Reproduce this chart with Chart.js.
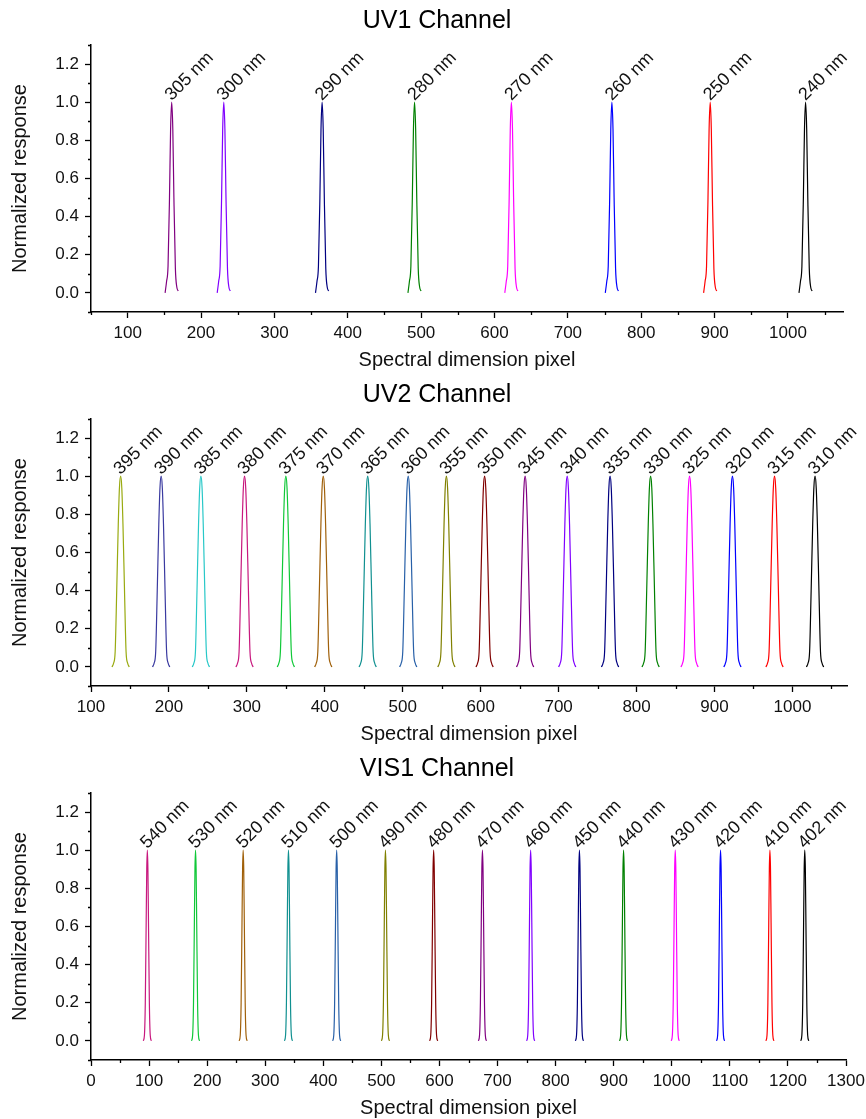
<!DOCTYPE html>
<html>
<head>
<meta charset="utf-8">
<script src="https://cdn.jsdelivr.net/npm/chart.js@4.4.1/dist/chart.umd.min.js"></script>
<style>
  html, body { margin: 0; padding: 0; background: #fff; }
  .panel { position: relative; width: 866px; }
</style>
</head>
<body>
<div class="panel" style="height:374px"><canvas id="uv1"></canvas></div>
<div class="panel" style="height:374px"><canvas id="uv2"></canvas></div>
<div class="panel" style="height:371px"><canvas id="vis1"></canvas></div>
<script>
// Peak positions / labels (pixel index of each peak maximum)
const uv1Labels = ['305 nm', '300 nm', '290 nm', '280 nm', '270 nm', '260 nm', '250 nm', '240 nm'];
const uv1Centers = [160, 231, 365, 491, 623, 760, 894, 1024];
const uv1Colors = ['#800080', '#8000ff', '#000080', '#008000', '#ff00ff', '#0000ff', '#ff0000', '#000000'];

const uv2Labels = ['395 nm', '390 nm', '385 nm', '380 nm', '375 nm', '370 nm', '365 nm', '360 nm', '355 nm',
                   '350 nm', '345 nm', '340 nm', '335 nm', '330 nm', '325 nm', '320 nm', '315 nm', '310 nm'];
const uv2Centers = [138, 190, 241, 297, 350, 398, 455, 507, 556, 605, 657, 711, 766, 818, 868, 923, 977, 1029];
const uv2Colors = ['#99aa10', '#3a3aa0', '#28c8c8', '#c8187e', '#10c838', '#a0600a', '#109090', '#2860a8', '#808000',
                   '#800000', '#800080', '#8000ff', '#000080', '#008000', '#ff00ff', '#0000ff', '#ff0000', '#000000'];

const vis1Labels = ['540 nm', '530 nm', '520 nm', '510 nm', '500 nm', '490 nm', '480 nm', '470 nm',
                    '460 nm', '450 nm', '440 nm', '430 nm', '420 nm', '410 nm', '402 nm'];
const vis1Centers = [97, 180, 262, 340, 423, 507, 590, 674, 757, 841, 917, 1006, 1084, 1169, 1229];
const vis1Colors = ['#c8187e', '#10c838', '#a0600a', '#109090', '#2860a8', '#808000', '#800000', '#800080',
                    '#8000ff', '#000080', '#008000', '#ff00ff', '#0000ff', '#ff0000', '#000000'];

// Shape of one normalized peak (offset in pixels from the maximum -> response), per channel
const uv1Offsets = [-9, -7, -5, -3, -1.5, 0, 1.5, 3, 5, 7, 9];
const uv1Profile = [0.00, 0.06, 0.14, 0.50, 0.86, 1.00, 0.86, 0.50, 0.13, 0.03, 0.01];
const uv2Offsets = [-11, -9, -7, -5, -3, -1.5, 0, 1.5, 3, 5, 7, 9, 11];
const uv2Profile = [0.00, 0.02, 0.08, 0.40, 0.75, 0.94, 1.00, 0.94, 0.75, 0.40, 0.08, 0.02, 0.00];
const vis1Offsets = [-7, -5, -3.5, -2, -1, 0, 1, 2, 3.5, 5, 7];
const vis1Profile = [0.00, 0.03, 0.20, 0.62, 0.90, 1.00, 0.90, 0.62, 0.20, 0.03, 0.00];

// Axis ticks
const yTicks = [0, 0.2, 0.4, 0.6, 0.8, 1.0, 1.2];
const uv1XTicks = [100, 200, 300, 400, 500, 600, 700, 800, 900, 1000];
const uv2XTicks = [100, 200, 300, 400, 500, 600, 700, 800, 900, 1000];
const vis1XTicks = [0, 100, 200, 300, 400, 500, 600, 700, 800, 900, 1000, 1100, 1200, 1300];

const FONT = "'Liberation Sans', Arial, sans-serif";
const INK = '#111';

// short minor tick marks between the labelled ones
const minorTicks = {
    id: 'minorTicks',
    afterDraw(chart, args, opts) {
        const ctx = chart.ctx;
        const { x, y } = chart.scales;
        const area = chart.chartArea;
        ctx.save();
        ctx.strokeStyle = '#000';
        ctx.lineWidth = 1.3;
        ctx.beginPath();
        for (let i = Math.ceil(x.min / opts.xStep); i * opts.xStep <= x.max; i++) {
            const v = i * opts.xStep;
            if (i % 2 === 0) continue;
            const px = Math.round(x.getPixelForValue(v)) + 0.5;
            ctx.moveTo(px, area.bottom);
            ctx.lineTo(px, area.bottom + opts.len);
        }
        for (let i = Math.ceil(y.min / opts.yStep - 1e-6); i * opts.yStep <= y.max + 1e-6; i++) {
            if (Math.abs(i) % 2 === 0) continue;
            const py = Math.round(y.getPixelForValue(i * opts.yStep)) + 0.5;
            ctx.moveTo(area.left, py);
            ctx.lineTo(area.left - opts.len, py);
        }
        ctx.stroke();
        ctx.restore();
    }
};

// rotated wavelength labels sitting on top of every peak
const peakLabels = {
    id: 'peakLabels',
    afterDatasetsDraw(chart, args, opts) {
        const ctx = chart.ctx;
        const { x, y } = chart.scales;
        ctx.save();
        ctx.font = '18px ' + FONT;
        ctx.fillStyle = INK;
        ctx.textAlign = 'left';
        ctx.textBaseline = 'alphabetic';
        opts.centers.forEach((c, i) => {
            ctx.save();
            ctx.translate(x.getPixelForValue(c), y.getPixelForValue(1.0) - 1);
            ctx.rotate(-Math.PI / 4);
            ctx.fillText(opts.labels[i], 0, 0);
            ctx.restore();
        });
        ctx.restore();
    }
};

function makeChart(id, cfg) {
    const datasets = cfg.centers.map((c, i) => ({
        label: cfg.labels[i],
        data: cfg.offsets.map((o, k) => ({ x: c + o, y: cfg.profile[k] })),
        borderColor: cfg.colors[i],
        borderWidth: 1.2,
        pointRadius: 0,
        fill: false,
        cubicInterpolationMode: 'monotone'
    }));

    return new Chart(document.getElementById(id), {
        type: 'line',
        data: { datasets },
        plugins: [minorTicks, peakLabels],
        options: {
            responsive: true,
            maintainAspectRatio: false,
            animation: false,
            layout: { padding: { left: 8, right: 0, top: 0, bottom: 0 } },
            plugins: {
                legend: { display: false },
                tooltip: { enabled: false },
                title: {
                    display: true,
                    text: cfg.title,
                    color: '#000',
                    font: { family: FONT, size: 25, weight: 'normal' },
                    padding: { top: 6, bottom: 9 }
                },
                minorTicks: { xStep: cfg.xMinor, yStep: 0.1, len: 3 },
                peakLabels: { labels: cfg.labels, centers: cfg.centers }
            },
            scales: {
                x: {
                    type: 'linear',
                    min: cfg.xMin,
                    max: cfg.xMax,
                    afterBuildTicks: (s) => { s.ticks = cfg.xTicks.map(v => ({ value: v })); },
                    afterFit: (s) => {
                        s.height = cfg.height - 312;
                        s.paddingLeft = 0;
                        s.paddingRight = cfg.padRight;
                    },
                    border: { display: true, color: '#000', width: 1.5 },
                    grid: { drawOnChartArea: false, drawTicks: true, tickLength: 6, tickColor: '#000', tickWidth: 1.3 },
                    ticks: {
                        color: INK,
                        padding: 5,
                        maxRotation: 0,
                        autoSkip: false,
                        font: { family: FONT, size: 17 },
                        callback: (v) => String(v)
                    },
                    title: {
                        display: true,
                        text: 'Spectral dimension pixel',
                        color: INK,
                        font: { family: FONT, size: 20 },
                        padding: { top: 0, bottom: cfg.height - 372 }
                    }
                },
                y: {
                    min: -0.1,
                    max: 1.3,
                    afterBuildTicks: (s) => { s.ticks = yTicks.map(v => ({ value: v })); },
                    afterFit: (s) => {
                        s.width = 83;
                        s.paddingTop = 0;
                        s.paddingBottom = 0;
                    },
                    border: { display: true, color: '#000', width: 1.5 },
                    grid: { drawOnChartArea: false, drawTicks: true, tickLength: 6, tickColor: '#000', tickWidth: 1.3 },
                    ticks: {
                        color: INK,
                        padding: 6,
                        font: { family: FONT, size: 17 },
                        callback: (v) => Number(v).toFixed(1)
                    },
                    title: {
                        display: true,
                        text: 'Normalized response',
                        color: INK,
                        font: { family: FONT, size: 20 },
                        padding: { top: 0, bottom: 0 }
                    }
                }
            }
        }
    });
}

makeChart('uv1', {
    title: 'UV1 Channel', labels: uv1Labels, centers: uv1Centers, colors: uv1Colors,
    offsets: uv1Offsets, profile: uv1Profile,
    xMin: 50, xMax: 1075, xTicks: uv1XTicks, xMinor: 50, height: 374, padRight: 23
});
makeChart('uv2', {
    title: 'UV2 Channel', labels: uv2Labels, centers: uv2Centers, colors: uv2Colors,
    offsets: uv2Offsets, profile: uv2Profile,
    xMin: 100, xMax: 1070, xTicks: uv2XTicks, xMinor: 50, height: 374, padRight: 19
});
makeChart('vis1', {
    title: 'VIS1 Channel', labels: vis1Labels, centers: vis1Centers, colors: vis1Colors,
    offsets: vis1Offsets, profile: vis1Profile,
    xMin: 0, xMax: 1300, xTicks: vis1XTicks, xMinor: 50, height: 371, padRight: 20
});
</script>
</body>
</html>
